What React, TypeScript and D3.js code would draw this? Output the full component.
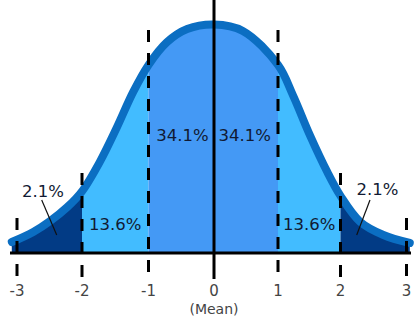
import React from "react";
import * as d3 from "d3";

// Tick values (standard deviations) and their labels
const tickValues = [-3, -2, -1, 0, 1, 2, 3];
const tickLabels = ["-3", "-2", "-1", "0", "1", "2", "3"];

// Curve: position in σ and height relative to the peak
const curveSigma = [-3.08, -2.75, -2.49, -2.23, -2, -1.73, -1.48, -1.23, -1, -0.72, -0.41, 0, 0.45, 1, 1.24, 1.51, 1.79, 2, 2.3, 2.65, 3.05];
const curveHeight = [0.048, 0.092, 0.14, 0.2, 0.27, 0.4, 0.547, 0.705, 0.823, 0.922, 0.98, 1, 0.972, 0.823, 0.69, 0.516, 0.354, 0.25, 0.136, 0.079, 0.044];

// Bands under the curve
const bandStart = [-4, -2, -1, 1, 2];
const bandEnd = [-2, -1, 1, 2, 4];
const bandColor = ["#023b85", "#42bcff", "#4499f5", "#42bcff", "#023b85"];

// Percentage labels
const pctText = ["2.1%", "13.6%", "34.1%", "34.1%", "13.6%", "2.1%"];
const pctSigma = [-2.6, -1.5, -0.48, 0.48, 1.5, 2.56];
const pctHeight = [0.247, 0.1, 0.49, 0.49, 0.1, 0.253];

// Dashed guide lines: sigma and top height
const dashSigma = [-3, -2, -1, 1, 2, 3];
const dashTop = [0.153, 0.35, 0.976, 0.976, 0.35, 0.153];

const W = 417;
const H = 322;

export default function App() {
  const x = d3
    .scaleLinear()
    .domain(tickValues)
    .range([17, 82, 148.5, 214, 278, 340.5, 406.5]);
  const y = d3.scaleLinear().domain([0, 1]).range([253, 24.5]);

  const pts: [number, number][] = curveSigma.map((s, i) => [s, curveHeight[i]]);
  const curve = d3.curveCatmullRom.alpha(0.5);
  const line = d3
    .line<[number, number]>()
    .x((d) => x(d[0]))
    .y((d) => y(d[1]))
    .curve(curve);
  const area = d3
    .area<[number, number]>()
    .x((d) => x(d[0]))
    .y0(y(0))
    .y1((d) => y(d[1]))
    .curve(curve);

  const areaPath = area(pts) || "";
  const linePath = line(pts) || "";
  const bottomY = 279;

  return (
    <svg
      width={W}
      height={H}
      viewBox={`0 0 ${W} ${H}`}
      style={{ position: "absolute", left: 0, top: 0, background: "#fff" }}
      fontFamily="DejaVu Sans, Verdana, sans-serif"
    >
      <defs>
        {bandStart.map((b, i) => (
          <clipPath id={`band${i}`} key={i}>
            <rect x={x(b)} y={0} width={x(bandEnd[i]) - x(b)} height={H} />
          </clipPath>
        ))}
      </defs>
      {bandStart.map((b, i) => (
        <path key={i} d={areaPath} fill={bandColor[i]} clipPath={`url(#band${i})`} />
      ))}
      <path d={linePath} fill="none" stroke="#0b6ec2" strokeWidth={8} strokeLinecap="round" />
      {/* baseline */}
      <line x1={10} x2={411} y1={y(0)} y2={y(0)} stroke="#000" strokeWidth={3} />
      {/* dashed guides */}
      {dashSigma.map((s, i) => (
        <line
          key={i}
          x1={x(s)}
          x2={x(s)}
          y1={y(dashTop[i])}
          y2={bottomY}
          stroke="#000"
          strokeWidth={3}
          strokeDasharray="12 11"
        />
      ))}
      {/* mean line */}
      <line x1={x(0)} x2={x(0)} y1={0} y2={bottomY} stroke="#000" strokeWidth={3} />
      {/* leader lines */}
      <line x1={41.7} y1={200} x2={56.7} y2={235} stroke="#111" strokeWidth={1.2} />
      <line x1={370} y1={200} x2={356.7} y2={235} stroke="#111" strokeWidth={1.2} />
      {/* percentage labels */}
      {pctText.map((t, i) => (
        <text
          key={i}
          x={x(pctSigma[i])}
          y={y(pctHeight[i])}
          textAnchor="middle"
          fontSize={16.5}
          fill="#111a33"
        >
          {t}
        </text>
      ))}
      {/* tick labels */}
      {tickValues.map((v, i) => (
        <text key={i} x={x(v)} y={296} textAnchor="middle" fontSize={15} fill="#444">
          {tickLabels[i]}
        </text>
      ))}
      <text x={x(0)} y={314} textAnchor="middle" fontSize={14} fill="#444">
        (Mean)
      </text>
    </svg>
  );
}
